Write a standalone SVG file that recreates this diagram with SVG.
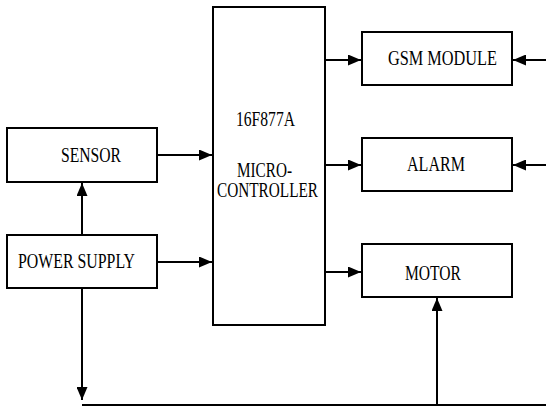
<svg xmlns="http://www.w3.org/2000/svg" width="546" height="409" viewBox="0 0 546 409">
<style>
.box{fill:#fff;stroke:#000;stroke-width:2}
.t{font-family:"Liberation Serif","Times New Roman",serif;font-size:20px;fill:#000}
.c{fill:none;stroke:#000;stroke-width:2}
</style>
<defs>
<marker id="ah" viewBox="0 0 13 11" refX="13" refY="5.5" markerWidth="13" markerHeight="11" markerUnits="userSpaceOnUse" orient="auto">
<path d="M0,0 L13,5.5 L0,11 Z" fill="#000"/>
</marker>
</defs>
<rect width="546" height="409" fill="#fff"/>
<g id="connectors">
<line class="c" x1="157" y1="155" x2="212" y2="155" marker-end="url(#ah)"/>
<line class="c" x1="157" y1="262" x2="212" y2="262" marker-end="url(#ah)"/>
<line class="c" x1="82" y1="235" x2="82" y2="183" marker-end="url(#ah)"/>
<line class="c" x1="82" y1="288" x2="82" y2="400" marker-end="url(#ah)"/>
<polyline class="c" points="82,405 546,405"/>
<line class="c" x1="437" y1="405" x2="437" y2="298" marker-end="url(#ah)"/>
<line class="c" x1="325" y1="60" x2="361" y2="60" marker-end="url(#ah)"/>
<line class="c" x1="325" y1="165" x2="361" y2="165" marker-end="url(#ah)"/>
<line class="c" x1="325" y1="272" x2="361" y2="272" marker-end="url(#ah)"/>
<line class="c" x1="546" y1="60" x2="513" y2="60" marker-end="url(#ah)"/>
<line class="c" x1="546" y1="165" x2="513" y2="165" marker-end="url(#ah)"/>
</g>
<g id="mcu">
<rect class="box" x="213" y="7" width="112" height="318"/>
<text class="t" x="236" y="126" textLength="59" lengthAdjust="spacingAndGlyphs">16F877A</text>
<text class="t" x="237" y="177" textLength="55" lengthAdjust="spacingAndGlyphs">MICRO-</text>
<text class="t" x="217" y="197" textLength="101" lengthAdjust="spacingAndGlyphs">CONTROLLER</text>
</g>
<g id="sensor">
<rect class="box" x="7" y="128" width="150" height="54"/>
<text class="t" x="61" y="162" textLength="60" lengthAdjust="spacingAndGlyphs">SENSOR</text>
</g>
<g id="power">
<rect class="box" x="7" y="235" width="150" height="53"/>
<text class="t" x="18" y="268" textLength="117" lengthAdjust="spacingAndGlyphs">POWER SUPPLY</text>
</g>
<g id="gsm">
<rect class="box" x="362" y="32" width="150" height="53"/>
<text class="t" x="388" y="65" textLength="109" lengthAdjust="spacingAndGlyphs">GSM  MODULE</text>
</g>
<g id="alarm">
<rect class="box" x="362" y="138" width="150" height="53"/>
<text class="t" x="407" y="171" textLength="58" lengthAdjust="spacingAndGlyphs">ALARM</text>
</g>
<g id="motor">
<rect class="box" x="362" y="244" width="150" height="53"/>
<text class="t" x="405" y="280" textLength="56" lengthAdjust="spacingAndGlyphs">MOTOR</text>
</g>
</svg>
